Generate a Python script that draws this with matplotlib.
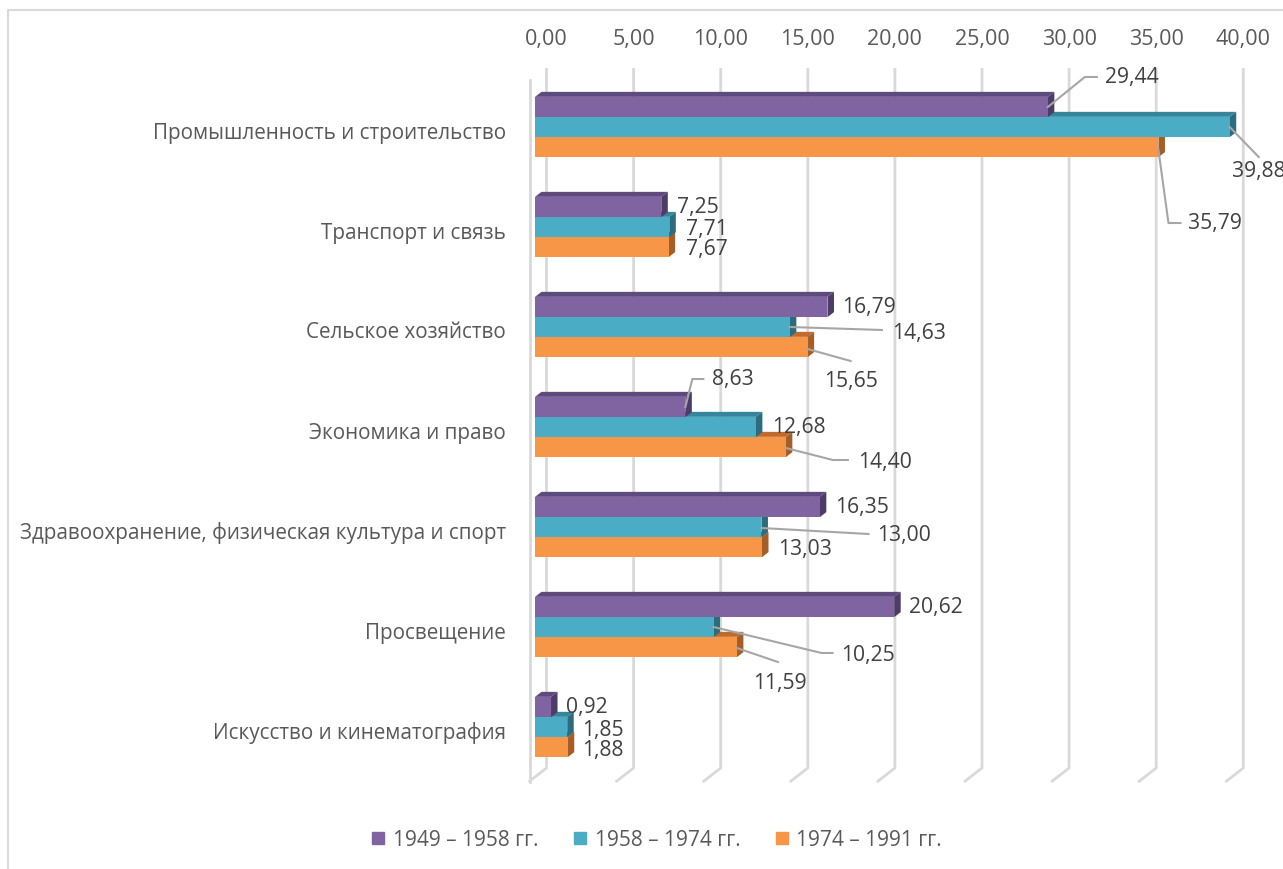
import matplotlib
matplotlib.use("Agg")
import matplotlib.pyplot as plt
from matplotlib.patches import Polygon
from matplotlib.lines import Line2D

# ---------------- data ----------------
categories = [
    "Промышленность и строительство",
    "Транспорт и связь",
    "Сельское хозяйство",
    "Экономика и право",
    "Здравоохранение, физическая культура и спорт",
    "Просвещение",
    "Искусство и кинематография",
]
series_names = ["1949 – 1958 гг.", "1958 – 1974 гг.", "1974 – 1991 гг."]
s1949_1958 = [29.44, 7.25, 16.79, 8.63, 16.35, 20.62, 0.92]
s1958_1974 = [39.88, 7.71, 14.63, 12.68, 13.00, 10.25, 1.85]
s1974_1991 = [35.79, 7.67, 15.65, 14.40, 13.03, 11.59, 1.88]
xticks = [0, 5, 10, 15, 20, 25, 30, 35, 40]

# ---------------- style ----------------
front_cols = ["#8064A2", "#4BACC6", "#F79646"]
top_cols = ["#5F4A7E", "#36869B", "#C06A2C"]
side_cols = ["#4E3C68", "#2C6C7E", "#A65E28"]
FONT = "Open Sans"
plt.rcParams["font.family"] = [FONT, "DejaVu Sans"]

W, H = 1283, 869
fig = plt.figure(figsize=(W / 100, H / 100), dpi=100)
ax = fig.add_axes([0, 0, 1, 1])
PXU = 17.42           # pixels per value unit
X0 = 535              # pixel of value 0 (front plane)
Y0 = 127              # pixel of first category centre
YS = 100              # pixels per category
ax.set_xlim(-X0 / PXU, (W - X0) / PXU)
ax.set_ylim((H - Y0) / YS, -Y0 / YS)
ax.axis("off")

def px(dx):
    return dx / PXU

def py(dy):
    return dy / YS

# border of chart area
ax.plot([px(8 - X0), px(8 - X0), px(W - X0)], [py(H - Y0), py(10 - Y0), py(10 - Y0)],
        color="#D9D9D9", lw=1.5, zorder=0, clip_on=False)

# back-plane gridlines with floor diagonal
back = px(11.5)
gtop, gbot, gfl = py(68 - Y0), py(768 - Y0), py(782 - Y0)
for t in xticks:
    ax.plot([t + back, t + back, t + back - px(18)], [gtop, gbot, gfl],
            color="#D9D9D9", lw=2, zorder=1, solid_capstyle="butt")
    ax.text(t + back, py(40 - Y0), f"{t:.2f}".replace(".", ","), ha="center", va="center",
            fontsize=15.5, color="#595959")
ax.plot([px(-5), px(-5)], [py(80 - Y0), gfl], color="#D9D9D9", lw=2, zorder=1)

# bars with 3D faces
bh = 0.203
offs = [-0.2, 0.0, 0.2]
DX, DY = px(6.5), py(-5)
all_series = [s1949_1958, s1958_1974, s1974_1991]
for si in [2, 1, 0]:
    z = 3 + (2 - si)
    vals = all_series[si]
    for k, v in enumerate(vals):
        yc = k + offs[si]
        top, bot = yc - bh / 2, yc + bh / 2
        ax.add_patch(Polygon([(0, top), (v, top), (v + DX, top + DY), (DX, top + DY)],
                             closed=True, fc=top_cols[si], ec="none", zorder=z))
        ax.add_patch(Polygon([(v, top), (v + DX, top + DY), (v + DX, bot + DY), (v, bot)],
                             closed=True, fc=side_cols[si], ec="none", zorder=z))
    ax.barh([k + offs[si] for k in range(len(vals))], vals, height=bh, left=0,
            color=front_cols[si], edgecolor="none", zorder=z)

# label layout: (text dx, text dy) in pixels from bar end, leader points
label_layout = {
    (0, 0): ((57, -30), [(0, 0), (37, -30), (49, -30)]),
    (0, 1): ((2, 45), [(0, 0), (29, 30)]),
    (0, 2): ((30, 76), [(0, 3), (10, 76), (22, 76)]),
    (1, 0): ((16, 1), None),
    (1, 1): ((17, 2), None),
    (1, 2): ((17, 3), None),
    (2, 0): ((15, 1), None),
    (2, 1): ((102, 6), [(0, 0), (92, 3)]),
    (2, 2): ((16, 34), [(0, 2), (43, 14)]),
    (3, 0): ((27, -27), [(0, 0), (7, -28), (18, -28)]),
    (3, 1): ((16, 1), None),
    (3, 2): ((72, 15), [(0, 1), (47, 13), (62, 13)]),
    (4, 0): ((15, 0), None),
    (4, 1): ((116, 8), [(0, 1), (107, 7)]),
    (4, 2): ((16, 2), None),
    (5, 0): ((15, 1), None),
    (5, 1): ((128, 28), [(0, 0), (108, 26), (119, 26)]),
    (5, 2): ((16, 36), [(0, 1), (41, 15)]),
    (6, 0): ((15, 1), None),
    (6, 1): ((15, 3), None),
    (6, 2): ((14, 3), None),
}
for si, vals in enumerate(all_series):
    for k, v in enumerate(vals):
        (tdx, tdy), lead = label_layout[(k, si)]
        yc = k + offs[si]
        ax.text(v + px(tdx), yc + py(tdy), f"{v:.2f}".replace(".", ","), ha="left", va="center",
                fontsize=15.2, color="#404040", zorder=10)
        if lead:
            ax.plot([v + px(a) for a, b in lead], [yc + py(b) for a, b in lead],
                    color="#A6A6A6", lw=1.5, zorder=9)

# category labels
for k, c in enumerate(categories):
    ax.text(px(506 - X0), k + py(6), c, ha="right", va="center", fontsize=14.9, color="#595959")

# legend
handles = [Line2D([], [], marker="s", linestyle="none", markersize=9, color=col) for col in front_cols]
fig.legend(handles, series_names, loc="center", bbox_to_anchor=(656 / W, 1 - 840 / H), ncol=3,
           frameon=False, fontsize=15, labelcolor="#595959", handlelength=0.8, handletextpad=0.3,
           columnspacing=1.6)

fig.savefig("out.png", dpi=100)
